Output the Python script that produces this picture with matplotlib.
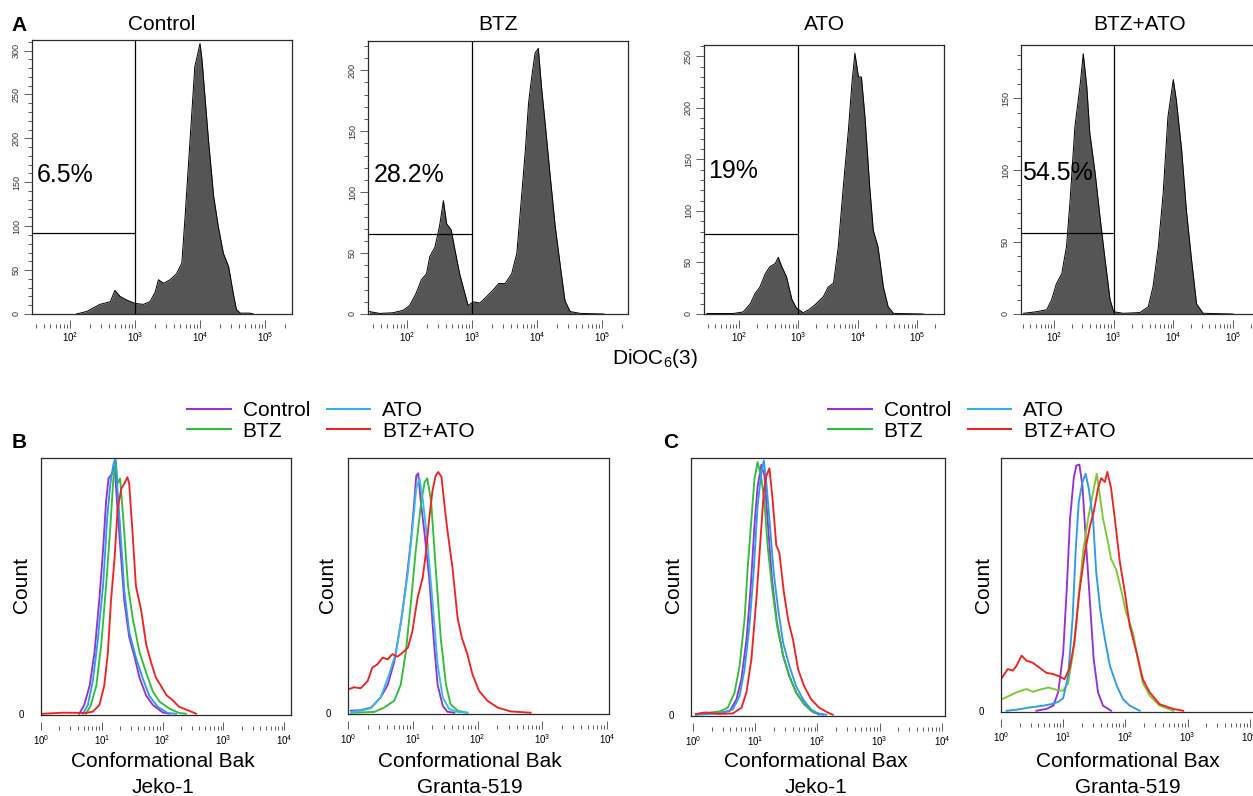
import numpy as np
import matplotlib
matplotlib.use('Agg')
import matplotlib.pyplot as plt
from matplotlib.lines import Line2D
from matplotlib.ticker import (LogLocator, MultipleLocator, LogFormatterMathtext,
                               NullFormatter)

plt.rcParams['font.family'] = ['Liberation Sans', 'DejaVu Sans']
plt.rcParams['mathtext.fontset'] = 'custom'
plt.rcParams['mathtext.rm'] = 'Liberation Sans'
plt.rcParams['mathtext.it'] = 'Liberation Sans:italic'
plt.rcParams['mathtext.bf'] = 'Liberation Sans:bold'
plt.rcParams['mathtext.default'] = 'regular'

# ---- panel A: DiOC6(3) histograms (log10 intensity, event count) ----
ctrl_log = [2.10, 2.26, 2.46, 2.62, 2.69, 2.77, 2.87, 3.00, 3.13, 3.23, 3.31, 3.36,
            3.44, 3.54, 3.64, 3.72, 3.77, 3.82, 3.87, 3.92, 3.97, 4.00, 4.03, 4.08,
            4.13, 4.21, 4.28, 4.36, 4.44, 4.51, 4.56, 4.62, 4.77, 4.82]
ctrl_cnt = [0, 3, 11, 14, 27, 20, 16, 12, 11, 14, 25, 39, 35, 39, 46, 58, 111, 168,
            225, 282, 298, 308, 290, 244, 198, 134, 100, 69, 54, 24, 5, 1, 1, 0]

btz_log = [1.42, 1.58, 1.78, 1.94, 2.04, 2.14, 2.22, 2.30, 2.35, 2.43, 2.50, 2.56,
           2.61, 2.68, 2.74, 2.81, 2.89, 2.94, 3.02, 3.12, 3.22, 3.33, 3.41, 3.51,
           3.61, 3.69, 3.74, 3.82, 3.87, 3.92, 3.97, 4.02, 4.07, 4.13, 4.20, 4.28,
           4.36, 4.43, 4.51, 4.67, 5.03]
btz_cnt = [2, 0.5, 1, 3, 7, 17, 28, 33, 47, 55, 72, 93, 74, 69, 52, 33, 17, 7, 10, 9,
           14, 20, 25, 25, 33, 50, 82, 134, 173, 195, 214, 218, 186, 154, 115, 72, 39,
           11, 2, 0.5, 0]

ato_log = [1.46, 1.90, 2.07, 2.19, 2.27, 2.35, 2.44, 2.52, 2.61, 2.66, 2.72, 2.80,
           2.89, 2.97, 3.08, 3.17, 3.28, 3.42, 3.50, 3.59, 3.67, 3.76, 3.84, 3.90,
           3.95, 4.01, 4.06, 4.12, 4.20, 4.26, 4.34, 4.43, 4.51, 4.60, 5.10]
ato_cnt = [0.5, 0.5, 2, 10, 20, 26, 39, 46, 49, 55, 46, 36, 14, 5.5, 1.3, 4, 9, 17,
           26, 30, 65, 127, 178, 224, 253, 230, 230, 191, 123, 81, 65, 26, 7, 0.6, 0]

combo_log = [1.49, 1.71, 1.88, 1.96, 2.04, 2.13, 2.21, 2.27, 2.35, 2.44, 2.49, 2.55,
             2.60, 2.69, 2.77, 2.85, 2.94, 3.00, 3.16, 3.44, 3.58, 3.66, 3.75, 3.83,
             3.91, 4.00, 4.05, 4.14, 4.22, 4.30, 4.39, 4.50, 5.00]
combo_cnt = [0.5, 1.6, 3, 10, 21, 28, 47, 79, 130, 160, 181, 158, 126, 98, 68, 40, 10,
             1.6, 0.5, 1, 5, 19, 47, 84, 137, 163, 149, 114, 72, 40, 7, 0.5, 0]

top_titles = ['Control', 'BTZ', 'ATO', 'BTZ+ATO']
top_pct = ['6.5%', '28.2%', '19%', '54.5%']
gate_x = 1000
gate_y = [92, 66, 78, 56]
top_ymax = [312, 224, 261, 187]

# ---- panels B and C: normalized counts (% of max) vs log10 intensity ----
jb_ctrl_log = [0.63, 0.71, 0.80, 0.88, 0.96, 1.02, 1.07, 1.11, 1.17, 1.21, 1.26, 1.32,
               1.37, 1.45, 1.54, 1.62, 1.73, 1.84, 2.00, 2.11]
jb_ctrl_y = [0, 3.4, 11, 24, 45, 64, 83, 92, 94, 97, 79, 60, 44, 30, 22, 14, 7, 3.4, 0.5, 0]
jb_btz_log = [0.74, 0.82, 0.91, 0.99, 1.07, 1.14, 1.19, 1.23, 1.26, 1.30, 1.36, 1.43,
              1.51, 1.62, 1.73, 1.84, 1.95, 2.11, 2.27, 2.38]
jb_btz_y = [0, 3.4, 11, 27, 50, 73, 92, 99, 90, 92, 74, 50, 37, 24, 16, 8.6, 4.7, 2, 0.3, 0]
jb_ato_log = [0.69, 0.77, 0.85, 0.93, 1.02, 1.09, 1.14, 1.19, 1.22, 1.26, 1.32, 1.37,
              1.45, 1.56, 1.67, 1.78, 1.92, 2.08, 2.22]
jb_ato_y = [0, 3.4, 12.5, 28, 50, 77, 90, 97.5, 99.5, 87, 66, 48, 32, 22, 14, 7, 2.7, 0.3, 0]
jb_combo_log = [0.03, 0.36, 0.74, 0.85, 0.96, 1.04, 1.10, 1.15, 1.21, 1.26, 1.32, 1.37,
                1.42, 1.45, 1.51, 1.56, 1.65, 1.73, 1.81, 1.89, 1.97, 2.06, 2.16, 2.27,
                2.41, 2.55]
jb_combo_y = [0, 0.4, 0.3, 0.8, 3.4, 11, 24, 44, 61, 80, 88, 90, 92.5, 90, 69, 50, 40,
              27, 20, 14, 11, 7.3, 5.4, 2.7, 1.4, 0]

gb_ctrl_log = [0.04, 0.19, 0.35, 0.50, 0.61, 0.71, 0.81, 0.89, 0.97, 1.02, 1.05, 1.08,
               1.12, 1.18, 1.25, 1.32, 1.38, 1.46, 1.53, 1.64]
gb_ctrl_y = [0.8, 1, 2, 6, 11, 20, 35, 50, 68, 83, 93, 94, 83, 70, 53, 29, 11, 2.7, 0.4, 0]
gb_btz_log = [0.04, 0.40, 0.55, 0.71, 0.81, 0.89, 0.97, 1.04, 1.12, 1.18, 1.22, 1.28,
              1.35, 1.43, 1.51, 1.58, 1.69, 1.84]
gb_btz_y = [0, 0.3, 2, 4.7, 11, 24, 44, 63, 81.5, 90.6, 92, 83, 57, 29, 11, 3.4, 0.8, 0]
gb_ato_log = [0.04, 0.19, 0.35, 0.50, 0.63, 0.74, 0.84, 0.92, 0.99, 1.05, 1.10, 1.15,
              1.22, 1.30, 1.38, 1.46, 1.56, 1.69, 1.84]
gb_ato_y = [0.3, 0.8, 1.8, 6, 15, 24, 40, 55, 72, 88, 92, 84, 68, 44, 19, 6, 1.4, 0.3, 0]
gb_combo_log = [0.00, 0.09, 0.19, 0.30, 0.37, 0.45, 0.53, 0.61, 0.68, 0.76, 0.84, 0.92,
                0.99, 1.07, 1.15, 1.20, 1.25, 1.30, 1.35, 1.39, 1.44, 1.48, 1.53, 1.61,
                1.69, 1.76, 1.84, 1.92, 2.02, 2.15, 2.31, 2.51, 2.82]
gb_combo_y = [9.2, 10, 9.6, 12.5, 17.7, 19, 21.6, 21, 23, 22, 23.6, 25.5, 32, 45, 53,
              63, 76, 87, 93, 94.5, 92.6, 83, 72, 57, 37, 29, 23, 15, 8.6, 4.7, 2, 0.5, 0]

jx_ctrl_log = [0.05, 0.16, 0.43, 0.59, 0.70, 0.78, 0.86, 0.93, 0.99, 1.04, 1.10, 1.15,
               1.20, 1.27, 1.35, 1.45, 1.55, 1.66, 1.79, 1.95, 2.09]
jx_ctrl_y = [0, 0.8, 0.8, 1.4, 6, 14, 29, 50, 74, 89, 97.4, 93, 76, 53, 36, 23, 15, 8.6,
             4, 0.8, 0]
jx_btz_log = [0.05, 0.21, 0.43, 0.56, 0.67, 0.75, 0.83, 0.88, 0.94, 0.99, 1.04, 1.10,
              1.15, 1.20, 1.27, 1.35, 1.45, 1.55, 1.66, 1.77, 1.90, 2.03]
jx_btz_y = [0.3, 0.5, 1.3, 2.7, 8.6, 19, 37, 57, 76, 92, 98.4, 92, 83, 66, 50, 35, 23,
            15, 8.6, 4.7, 1.4, 0]
jx_ato_log = [0.05, 0.43, 0.64, 0.75, 0.83, 0.91, 0.98, 1.04, 1.10, 1.14, 1.18, 1.23,
              1.30, 1.37, 1.45, 1.55, 1.66, 1.77, 1.90, 2.01, 2.14]
jx_ato_y = [0, 0.5, 2, 7.3, 17.7, 35, 57, 81.5, 94.5, 99, 90.6, 76, 55, 41, 28, 19, 11,
            6, 2, 0.5, 0]
jx_combo_log = [0.05, 0.21, 0.43, 0.64, 0.78, 0.86, 0.94, 1.02, 1.08, 1.14, 1.18, 1.23,
                1.28, 1.34, 1.39, 1.46, 1.53, 1.61, 1.69, 1.79, 1.90, 2.03, 2.17, 2.25]
jx_combo_y = [0.3, 0.8, 0.3, 0.5, 2.7, 8.6, 21.6, 45, 66, 87, 93, 96, 84, 66, 63, 48,
              37, 29, 17.7, 11, 6, 2.7, 0.8, 0]

gx_ctrl_log = [0.57, 0.73, 0.84, 0.92, 1.00, 1.06, 1.11, 1.17, 1.21, 1.26, 1.31, 1.36,
               1.43, 1.49, 1.56, 1.64, 1.77]
gx_ctrl_y = [0, 0.7, 2, 7.3, 23, 49.5, 76, 92, 97, 97.4, 89, 69, 43, 20.5, 7.3, 2, 0]
gx_btz_log = [0.00, 0.14, 0.25, 0.41, 0.51, 0.62, 0.76, 0.89, 1.00, 1.08, 1.16, 1.24,
              1.32, 1.40, 1.48, 1.54, 1.59, 1.64, 1.72, 1.77, 1.85, 1.93, 2.01, 2.12,
              2.20, 2.28, 2.39, 2.55, 2.77]
gx_btz_y = [4.4, 6, 7.3, 8.6, 7.5, 8.3, 9.2, 8.3, 7.9, 11, 23, 43, 63, 76, 86.5, 93.8,
            85, 76, 66.7, 60, 56, 48, 39, 31, 20.5, 11, 6, 2, 0]
gx_ato_log = [0.09, 0.25, 0.46, 0.68, 0.81, 0.92, 1.00, 1.08, 1.15, 1.20, 1.25, 1.31,
              1.36, 1.41, 1.48, 1.53, 1.60, 1.67, 1.75, 1.86, 1.96, 2.07, 2.23]
gx_ato_y = [0, 0.4, 1.3, 2, 2.6, 3.5, 5, 14, 36, 63, 82.6, 90.5, 93.8, 88, 76, 55, 39,
            28.4, 17.8, 10, 4.6, 2, 0]
gx_combo_log = [0.00, 0.11, 0.19, 0.25, 0.33, 0.41, 0.51, 0.62, 0.73, 0.84, 0.94, 1.02,
                1.10, 1.18, 1.26, 1.35, 1.43, 1.49, 1.56, 1.61, 1.67, 1.71, 1.77, 1.83,
                1.91, 1.99, 2.07, 2.18, 2.28, 2.39, 2.55, 2.77, 2.93]
gx_combo_y = [12.5, 16.5, 15.9, 17.8, 21.8, 19.8, 19, 17, 15, 14.5, 13.6, 12.5, 16.5,
              27, 47, 63, 73, 78.6, 88, 92, 90.5, 94.5, 88, 76, 59, 47, 33.7, 23, 12.5,
              7.3, 2.6, 0.7, 0]

legend_labels = ['Control', 'BTZ', 'ATO', 'BTZ+ATO']
C_CTRL, C_BTZ, C_ATO, C_COMBO = '#9532d6', '#33bd3c', '#2e9be6', '#ee2424'
C_BTZ_LIGHT = '#7cc930'
SPINE = '#2a2a2a'

W, H = 1253, 796


def box(fig, left, top, right, bottom):
    return fig.add_axes([left / W, 1 - bottom / H, (right - left) / W, (bottom - top) / H])


def fxy(x, y):
    return x / W, 1 - y / H


def style_log_x(ax, lo, hi, offset):
    ax.set_xscale('log')
    ax.set_xlim(10 ** lo, 10 ** hi)
    ax.xaxis.set_major_locator(LogLocator(base=10, numticks=12))
    ax.xaxis.set_minor_locator(LogLocator(base=10, subs=np.arange(2, 10), numticks=40))
    ax.xaxis.set_major_formatter(LogFormatterMathtext())
    ax.xaxis.set_minor_formatter(NullFormatter())
    ax.spines['bottom'].set_position(('outward', offset))
    ax.spines['bottom'].set_visible(False)
    ax.plot([0, 1], [0, 0], transform=ax.transAxes, color=SPINE, lw=0.9, clip_on=False)
    ax.tick_params(axis='x', which='major', direction='in', length=6, width=0.6,
                   color='#444444', labelsize=7, pad=2)
    ax.tick_params(axis='x', which='minor', direction='in', length=3.2, width=0.6,
                   color='#444444')
    for s in ['top', 'left', 'right']:
        ax.spines[s].set_color(SPINE)
        ax.spines[s].set_linewidth(0.9)


def dioc_panel(ax, logx, cnt, idx, lims):
    x = 10 ** np.array(logx)
    ax.fill_between(x, cnt, color='#555555', lw=0)
    ax.plot(x, cnt, color='black', lw=0.7)
    style_log_x(ax, lims[0], lims[1], 10)
    ax.set_ylim(0, top_ymax[idx])
    ax.axvline(gate_x, color='black', lw=0.9)
    ax.hlines(gate_y[idx], ax.get_xlim()[0], gate_x, color='black', lw=0.9)
    ax.yaxis.set_major_locator(MultipleLocator(50))
    ax.yaxis.set_minor_locator(MultipleLocator(10))
    ax.tick_params(axis='y', which='major', length=6, width=0.6, color='#444444',
                   labelsize=6.5, labelcolor='#333333', pad=2)
    ax.tick_params(axis='y', which='minor', length=3, width=0.6, color='#444444')
    for lab in ax.get_yticklabels():
        lab.set_rotation(90)
        lab.set_va('center')


def flow_panel(ax, curves, lims):
    for logx, y, color in curves:
        ax.plot(10 ** np.array(logx), y, color=color, lw=1.35)
    style_log_x(ax, lims[0], lims[1], 11)
    ax.set_ylim(-0.5, 100)
    ax.set_yticks([0])
    ax.tick_params(axis='y', length=0, labelsize=7, pad=12)


def main():
    fig = plt.figure(figsize=(W / 100, H / 100), dpi=100)

    # panel A
    top_boxes = [(32, 40, 292, 314), (368, 41, 628, 314), (704, 45, 944, 314),
                 (1021, 45, 1258, 314)]
    top_lims = [(1.415, 5.415), (1.40, 5.40), (1.41, 5.45), (1.447, 5.42)]
    series = [(ctrl_log, ctrl_cnt), (btz_log, btz_cnt), (ato_log, ato_cnt),
              (combo_log, combo_cnt)]
    pct_pos = [(37, 182), (374, 182), (708, 178), (1022, 180)]
    for i, (b, (lx, c)) in enumerate(zip(top_boxes, series)):
        ax = box(fig, *b)
        dioc_panel(ax, lx, c, i, top_lims[i])
        fig.text(*fxy((b[0] + b[2]) / 2, 30), top_titles[i], fontsize=15,
                 ha='center', va='baseline')
        fig.text(*fxy(*pct_pos[i]), top_pct[i], fontsize=18, ha='left', va='baseline')
    fig.text(*fxy(19, 31), 'A', fontsize=15, fontweight='bold', ha='center', va='baseline')
    fig.text(*fxy(655, 364), r'DiOC$_{6}$(3)', fontsize=15, ha='center', va='baseline')

    # panels B and C
    bottom_boxes = [(41, 458, 291, 715), (348, 458, 609, 714), (691, 458, 945, 716),
                    (1001, 458, 1256, 712)]
    bottom_lims = [(0.0, 4.11), (-0.005, 4.03), (-0.03, 4.05), (0.0, 4.1)]
    panels = [
        [(jb_ctrl_log, jb_ctrl_y, C_CTRL), (jb_btz_log, jb_btz_y, C_BTZ),
         (jb_ato_log, jb_ato_y, C_ATO), (jb_combo_log, jb_combo_y, C_COMBO)],
        [(gb_ctrl_log, gb_ctrl_y, C_CTRL), (gb_btz_log, gb_btz_y, C_BTZ),
         (gb_ato_log, gb_ato_y, '#33bde8'), (gb_combo_log, gb_combo_y, C_COMBO)],
        [(jx_ctrl_log, jx_ctrl_y, C_CTRL), (jx_btz_log, jx_btz_y, C_BTZ),
         (jx_ato_log, jx_ato_y, C_ATO), (jx_combo_log, jx_combo_y, C_COMBO)],
        [(gx_ctrl_log, gx_ctrl_y, C_CTRL), (gx_btz_log, gx_btz_y, C_BTZ_LIGHT),
         (gx_ato_log, gx_ato_y, C_ATO), (gx_combo_log, gx_combo_y, C_COMBO)],
    ]
    xlabels = ['Conformational Bak', 'Conformational Bak', 'Conformational Bax',
               'Conformational Bax']
    cells = ['Jeko-1', 'Granta-519', 'Jeko-1', 'Granta-519']
    label_x = [163, 470, 816, 1128]
    count_x = [22, 328, 673, 983]
    for i, b in enumerate(bottom_boxes):
        ax = box(fig, *b)
        flow_panel(ax, panels[i], bottom_lims[i])
        fig.text(*fxy(label_x[i], 767), xlabels[i], fontsize=15, ha='center', va='baseline')
        fig.text(*fxy(label_x[i], 793), cells[i], fontsize=15, ha='center', va='baseline')
        fig.text(*fxy(count_x[i], 585), 'Count', fontsize=15, rotation=90,
                 ha='center', va='center')

    fig.text(*fxy(19, 448), 'B', fontsize=15, fontweight='bold', ha='center', va='baseline')
    fig.text(*fxy(671, 448), 'C', fontsize=15, fontweight='bold', ha='center', va='baseline')

    handles = [Line2D([], [], color=c, lw=1.5) for c in (C_CTRL, C_BTZ, '#33b0e6', C_COMBO)]
    for cx in (331, 972):
        fig.legend(handles, legend_labels, loc='center', bbox_to_anchor=fxy(cx, 421),
                   ncol=2, frameon=False, fontsize=15, handlelength=2.1,
                   handletextpad=0.55, columnspacing=0.8, labelspacing=0.05,
                   borderpad=0, borderaxespad=0)

    fig.savefig('out.png', dpi=100)


if __name__ == '__main__':
    main()
